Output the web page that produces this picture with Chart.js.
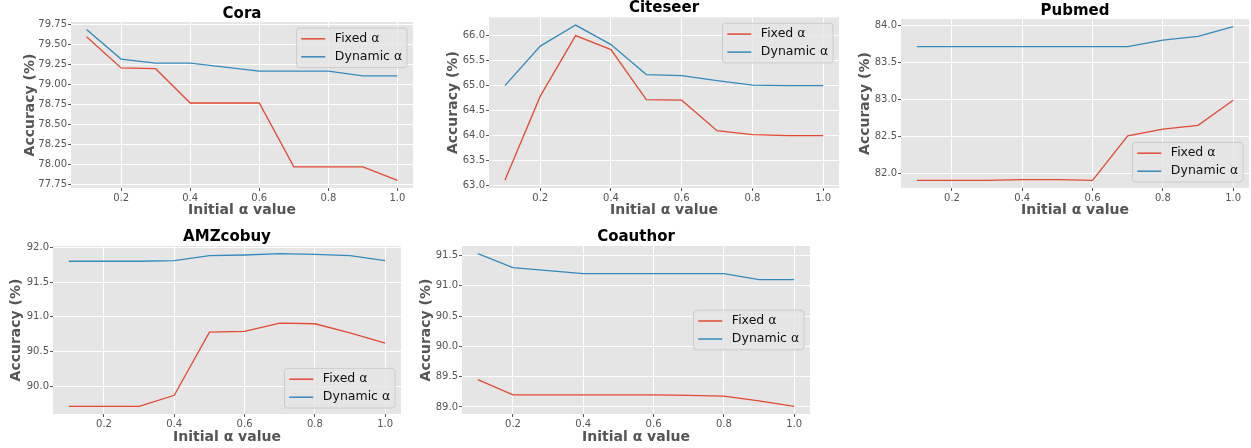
<!DOCTYPE html>
<html>
<head>
<meta charset="utf-8">
<script src="https://cdn.jsdelivr.net/npm/chart.js@4/dist/chart.umd.min.js"></script>
<style>
  html, body { margin: 0; padding: 0; background: #ffffff; }
  body { width: 1251px; height: 448px; position: relative; overflow: hidden; }
  .box { position: absolute; }
</style>
</head>
<body>
<div class="box" style="left:22px;top:-4px;"><canvas id="cora" width="393" height="223"></canvas></div>
<div class="box" style="left:445px;top:-4px;"><canvas id="citeseer" width="396" height="223"></canvas></div>
<div class="box" style="left:857px;top:-4px;"><canvas id="pubmed" width="394" height="223"></canvas></div>
<div class="box" style="left:8px;top:218px;"><canvas id="amz" width="395" height="228"></canvas></div>
<div class="box" style="left:418px;top:218px;"><canvas id="coauthor" width="394" height="228"></canvas></div>
<script>
const alphas = [0.1, 0.2, 0.3, 0.4, 0.5, 0.6, 0.7, 0.8, 0.9, 1.0];
const xTicks = [0.2, 0.4, 0.6, 0.8, 1.0];
const seriesNames = ["Fixed α", "Dynamic α"];

const coraFixed = [79.60, 79.21, 79.20, 78.77, 78.77, 78.77, 77.97, 77.97, 77.97, 77.80];
const coraDynamic = [79.69, 79.32, 79.27, 79.27, 79.22, 79.17, 79.17, 79.17, 79.11, 79.11];
const coraTicks = [77.75, 78.00, 78.25, 78.50, 78.75, 79.00, 79.25, 79.50, 79.75];

const citeseerFixed = [63.11, 64.79, 66.00, 65.72, 64.72, 64.71, 64.10, 64.02, 64.00, 64.00];
const citeseerDynamic = [65.00, 65.79, 66.21, 65.82, 65.22, 65.20, 65.10, 65.01, 65.00, 65.00];
const citeseerTicks = [63.0, 63.5, 64.0, 64.5, 65.0, 65.5, 66.0];

const pubmedFixed = [81.91, 81.91, 81.91, 81.92, 81.92, 81.91, 82.51, 82.60, 82.65, 82.99];
const pubmedDynamic = [83.71, 83.71, 83.71, 83.71, 83.71, 83.71, 83.71, 83.80, 83.85, 83.98];
const pubmedTicks = [82.0, 82.5, 83.0, 83.5, 84.0];

const amzFixed = [89.71, 89.71, 89.71, 89.87, 90.78, 90.79, 90.91, 90.90, 90.77, 90.62];
const amzDynamic = [91.80, 91.80, 91.80, 91.81, 91.88, 91.89, 91.91, 91.90, 91.88, 91.81];
const amzTicks = [90.0, 90.5, 91.0, 91.5, 92.0];

const coauthorFixed = [89.45, 89.20, 89.20, 89.20, 89.20, 89.20, 89.19, 89.18, 89.10, 89.01];
const coauthorDynamic = [91.53, 91.30, 91.25, 91.20, 91.20, 91.20, 91.20, 91.20, 91.10, 91.10];
const coauthorTicks = [89.0, 89.5, 90.0, 90.5, 91.0, 91.5];

const RED = "#E24A33";
const BLUE = "#348ABD";
const FONT = '"DejaVu Sans", sans-serif';

// gray panel behind the plot
const panelBg = {
  id: "panelBg",
  beforeDraw(chart) {
    const a = chart.chartArea;
    const c = chart.ctx;
    c.save();
    c.fillStyle = "#E5E5E5";
    c.fillRect(a.left, a.top, a.right - a.left, a.bottom - a.top);
    c.restore();
  },
};

// matplotlib-like legend inside the axes
const boxLegend = {
  id: "boxLegend",
  afterDatasetsDraw(chart, args, opts) {
    const c = chart.ctx;
    const a = chart.chartArea;
    const pad = 4.8, hl = 24, htp = 9.6, ls = 6, bap = 6, rowH = 12;
    c.save();
    c.font = "12.5px " + FONT;
    const sets = chart.data.datasets;
    const tw = Math.max(...sets.map(d => c.measureText(d.label).width));
    const w = 2 * pad + hl + htp + tw;
    const h = 2 * pad + sets.length * rowH + (sets.length - 1) * ls;
    const x = a.right - bap - w;
    let y;
    if (opts.loc === "upper") y = a.top + bap;
    else if (opts.loc === "lower") y = a.bottom - bap - h;
    else y = (a.top + a.bottom) / 2 - h / 2;
    c.beginPath();
    c.roundRect(x, y, w, h, 3);
    c.fillStyle = "rgba(229,229,229,0.8)";
    c.fill();
    c.strokeStyle = "#cccccc";
    c.lineWidth = 1;
    c.stroke();
    sets.forEach((d, i) => {
      const cy = y + pad + rowH / 2 + i * (rowH + ls);
      c.beginPath();
      c.moveTo(x + pad, cy);
      c.lineTo(x + pad + hl, cy);
      c.strokeStyle = d.borderColor;
      c.lineWidth = 1.5;
      c.stroke();
      c.fillStyle = "#111111";
      c.textBaseline = "middle";
      c.textAlign = "left";
      c.fillText(d.label, x + pad + hl + htp, cy);
    });
    c.restore();
  },
};

function makeChart(id, title, fixed, dynamic, yTicks, decimals, cfg) {
  const all = fixed.concat(dynamic);
  const lo = Math.min(...all), hi = Math.max(...all);
  const m = (hi - lo) * 0.05;
  const pts = arr => arr.map((v, i) => ({ x: alphas[i], y: v }));
  return new Chart(document.getElementById(id), {
    type: "line",
    data: {
      datasets: [
        { label: seriesNames[0], data: pts(fixed), borderColor: RED, borderWidth: 1.3, pointRadius: 0, fill: false, tension: 0 },
        { label: seriesNames[1], data: pts(dynamic), borderColor: BLUE, borderWidth: 1.3, pointRadius: 0, fill: false, tension: 0 },
      ],
    },
    options: {
      responsive: false,
      animation: false,
      layout: { padding: { left: 0, right: 2, top: 0, bottom: 0 } },
      plugins: {
        legend: { display: false },
        tooltip: { enabled: false },
        title: {
          display: true,
          text: title,
          fullSize: false,
          color: "#000000",
          font: { family: FONT, size: 15, weight: "bold", lineHeight: 1.0 },
          padding: { top: cfg.tTop, bottom: cfg.tBottom },
        },
        boxLegend: { loc: cfg.loc },
      },
      scales: {
        x: {
          type: "linear",
          min: 0.055,
          max: 1.045,
          afterBuildTicks: s => { s.ticks = xTicks.map(v => ({ value: v })); },
          afterFit: s => { s.height = cfg.xh; },
          grid: { color: "#ffffff", lineWidth: 1, tickColor: "#555555", tickLength: 3 },
          border: { display: false },
          ticks: {
            autoSkip: false, maxRotation: 0, padding: 1, color: "#555555",
            font: { family: FONT, size: 10 },
            callback: v => v.toFixed(1),
          },
          title: {
            display: true, text: "Initial α value", color: "#555555",
            font: { family: FONT, size: 14, weight: "bold" },
            padding: { top: 0, bottom: 0 },
          },
        },
        y: {
          type: "linear",
          min: lo - m,
          max: hi + m,
          afterBuildTicks: s => { s.ticks = yTicks.map(v => ({ value: v })); },
          afterFit: s => { s.width = cfg.yw; },
          grid: { color: "#ffffff", lineWidth: 1, tickColor: "#555555", tickLength: 3 },
          border: { display: false },
          ticks: {
            autoSkip: false, padding: 1, color: "#555555",
            font: { family: FONT, size: 10 },
            callback: v => v.toFixed(decimals),
          },
          title: {
            display: true, text: "Accuracy (%)", color: "#555555",
            font: { family: FONT, size: 14, weight: "bold" },
            padding: { top: 0, bottom: 0 },
          },
        },
      },
    },
    plugins: [panelBg, boxLegend],
  });
}

makeChart("cora", "Cora", coraFixed, coraDynamic, coraTicks, 2,
  { tTop: 10.5, tBottom: 0.5, xh: 31, yw: 49, loc: "upper" });
makeChart("citeseer", "Citeseer", citeseerFixed, citeseerDynamic, citeseerTicks, 1,
  { tTop: 4.8, tBottom: 1.5, xh: 31, yw: 44, loc: "upper" });
makeChart("pubmed", "Pubmed", pubmedFixed, pubmedDynamic, pubmedTicks, 1,
  { tTop: 7.5, tBottom: 0.5, xh: 31, yw: 44, loc: "lower" });
makeChart("amz", "AMZcobuy", amzFixed, amzDynamic, amzTicks, 1,
  { tTop: 12, tBottom: 1, xh: 32, yw: 45, loc: "lower" });
makeChart("coauthor", "Coauthor", coauthorFixed, coauthorDynamic, coauthorTicks, 1,
  { tTop: 12, tBottom: 1, xh: 32, yw: 44, loc: "center" });
</script>
</body>
</html>
